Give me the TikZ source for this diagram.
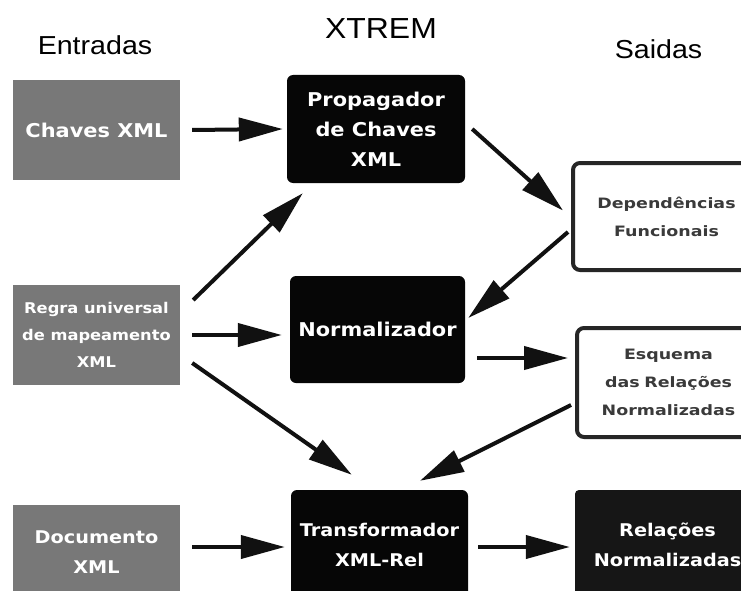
\documentclass[tikz,border=0pt]{standalone}
\usepackage{fontspec}
\usetikzlibrary{arrows.meta}
\newfontfamily\hdfont{Liberation Sans}[FakeStretch=1.1]
\newfontfamily\bxfont{DejaVu Sans}[FakeStretch=1.1]
\newfontfamily\bxwide{DejaVu Sans}[FakeStretch=1.22]
\definecolor{inputgray}{HTML}{787878}
\definecolor{procblack}{HTML}{060606}
\definecolor{resultblack}{HTML}{161616}
\definecolor{outline}{HTML}{262626}
\definecolor{outtext}{HTML}{3A3A3A}
\definecolor{arrowblack}{HTML}{111111}
\begin{document}
\begin{tikzpicture}[x=1pt,y=-1pt,
  box/.style={rectangle, inner sep=0pt, align=center},
  inbox/.style={box, fill=inputgray, text=white},
  procbox/.style={box, fill=procblack, rounded corners=6pt, text=white},
  resbox/.style={box, fill=resultblack, rounded corners=4pt, text=white},
  outbox/.style={box, draw=outline, line width=4pt, fill=white, rounded corners=7pt, text=outtext},
  bigtxt/.style={font={\bxfont\bfseries\fontsize{19}{30}\selectfont}},
  midtxt/.style={font={\bxfont\bfseries\fontsize{17.5}{30}\selectfont}},
  smalltxt/.style={font={\bxwide\bfseries\fontsize{14.3}{28}\selectfont}},
  regratxt/.style={font={\bxfont\bfseries\fontsize{14.8}{27}\selectfont}},
  arr/.style={line width=4pt, draw=arrowblack, -{Triangle[length=44pt,width=23pt]}},
  hd/.style={anchor=base, inner sep=0pt, text=black}
]
\clip (0,0) rectangle (741,591);
\fill[white] (0,0) rectangle (741,591);

% column headings
\node[hd, font={\hdfont\fontsize{26}{30}\selectfont}] (hin)  at (95,55)    {Entradas};
\node[hd, font={\hdfont\fontsize{29}{34}\selectfont}] (hmid) at (381,39)   {XTREM};
\node[hd, font={\hdfont\fontsize{26}{30}\selectfont}] (hout) at (658.5,59) {Saidas};

% inputs
\node[inbox, bigtxt, minimum width=167pt, minimum height=99pt] (chaves) at (96.5,130) {Chaves XML};
\node[inbox, regratxt, minimum width=167pt, minimum height=100pt] (regra) at (96.5,335) {Regra universal\\de mapeamento\\XML};
\node[inbox, midtxt, minimum width=167pt, minimum height=95pt] (doc) at (96.5,552.5) {Documento\\XML};

% XTREM components
\node[procbox, bigtxt, minimum width=178pt, minimum height=108pt] (prop) at (376,129) {Propagador\\de Chaves\\XML};
\node[procbox, bigtxt, minimum width=175pt, minimum height=107pt] (norm) at (377.5,329.5) {Normalizador};
\node[procbox, midtxt, minimum width=177pt, minimum height=110pt] (trans) at (379.5,545) {Transformador\\XML-Rel};

% outputs
\node[outbox, smalltxt, minimum width=187pt, minimum height=107pt, text width=175pt] (dep) at (666.5,216.5) {Dependências\\Funcionais};
\node[outbox, smalltxt, minimum width=183pt, minimum height=109pt, text width=175pt] (esq) at (668.5,382.5) {Esquema\\das Relações\\Normalizadas};
\node[resbox, midtxt, minimum width=185pt, minimum height=110pt, text width=175pt] (rel) at (667.5,545) {Relações\\Normalizadas};

% data flow
\draw[arr] ([xshift=12]chaves.east) -- ([xshift=-4]prop.west);
\draw[arr] ([xshift=7]prop.east) -- ([shift={(-8,-6)}]dep.west);
\draw[arr] ([shift={(-3,15.5)}]dep.west) -- ([shift={(3,-11.5)}]norm.east);
\draw[arr] ([shift={(13,-35)}]regra.east) -- ([shift={(16,10)}]prop.south west);
\draw[arr] ([xshift=12]regra.east) -- ([shift={(-8,5.5)}]norm.west);
\draw[arr] ([shift={(12,28)}]regra.east) -- ([shift={(61,-15)}]trans.north west);
\draw[arr] ([shift={(12,28.5)}]norm.east) -- ([shift={(-7,-24.5)}]esq.west);
\draw[arr] ([shift={(-4,22.5)}]esq.west) -- ([shift={(40.5,-9)}]trans.north);
\draw[arr] ([shift={(12,-5.5)}]doc.east) -- ([shift={(-6,2)}]trans.west);
\draw[arr] ([shift={(10,2)}]trans.east) -- ([shift={(-5,2)}]rel.west);
\end{tikzpicture}
\end{document}
